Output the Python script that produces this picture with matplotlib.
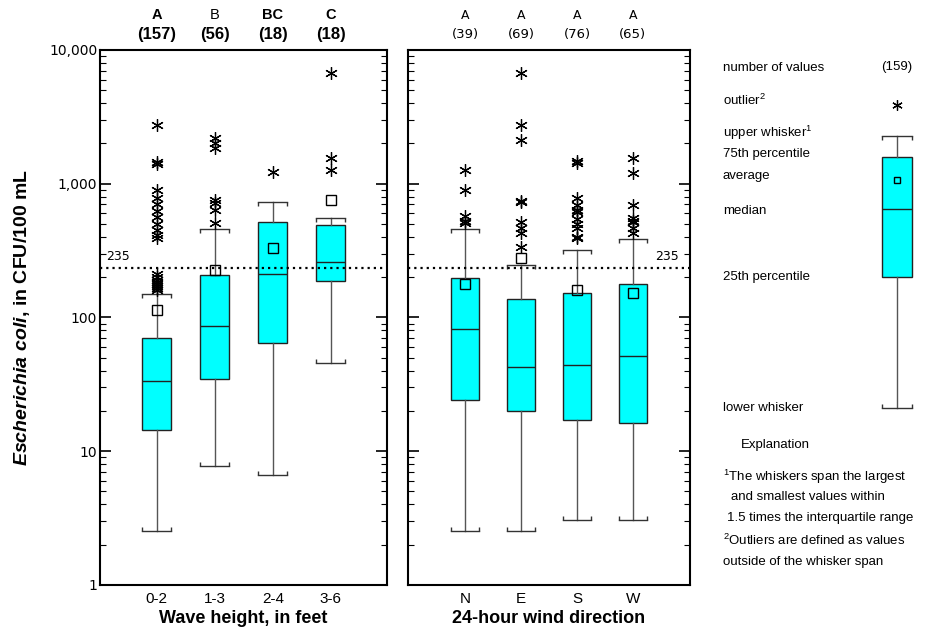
import matplotlib.pyplot as plt
import numpy as np
from matplotlib.ticker import LogLocator, FuncFormatter, NullFormatter

plt.rcParams['font.family'] = 'Liberation Sans'
plt.rcParams['mathtext.fontset'] = 'custom'
plt.rcParams['mathtext.rm'] = 'Liberation Sans'
plt.rcParams['mathtext.bfit'] = 'Liberation Sans:italic:bold'

# Wave height groups
wave_labels = ['0-2', '1-3', '2-4', '3-6']
wave_groups = ['A', 'B', 'BC', 'C']
wave_n = [157, 56, 18, 18]
wave_lo = [2.55, 7.8, 6.6, 45.7]
wave_q1 = [14.4, 34.7, 64.5, 187]
wave_med = [33.5, 86, 211, 260]
wave_q3 = [70, 208, 518, 492]
wave_hi = [150, 459, 731, 555]
wave_mean = [114, 226, 331, 755]
wave_out = [
    [2750, 1460, 1400, 900, 780, 700, 620, 560, 500, 450, 410, 390,
     210, 200, 192, 185, 178, 172, 166, 160],
    [2200, 2020, 1850, 754, 712, 634, 506],
    [1224],
    [6730, 1553, 1267],
]

# Wind direction groups
wind_labels = ['N', 'E', 'S', 'W']
wind_groups = ['A', 'A', 'A', 'A']
wind_n = [39, 69, 76, 65]
wind_lo = [2.55, 2.55, 3.05, 3.05]
wind_q1 = [24.2, 20, 17.1, 16.3]
wind_med = [82, 42.7, 44.2, 51.5]
wind_q3 = [197, 137, 152, 178]
wind_hi = [459, 247, 320, 386]
wind_mean = [178, 279, 161, 152]
wind_out = [
    [1267, 890, 574, 530, 506],
    [6730, 2750, 2124, 740, 725, 518, 465, 427, 338],
    [1470, 1420, 782, 693, 640, 615, 546, 500, 465, 400, 393],
    [1553, 1203, 693, 555, 530, 518, 465, 427],
]

# Explanation box
expl_n = 159
expl_lo, expl_q1, expl_med, expl_q3, expl_hi = 21, 201, 648, 1585, 2275
expl_mean = 1067
expl_out = [3880]

criterion = 235
CYAN = '#00FFFF'


def stats(lo, q1, med, q3, hi, mean, out):
    return [dict(whislo=a, q1=b, med=c, q3=d, whishi=e, mean=f, fliers=g)
            for a, b, c, d, e, f, g in zip(lo, q1, med, q3, hi, mean, out)]


def draw_boxes(ax, st, pos, width=0.5, ms_mean=6.5, ms_out=9):
    ax.bxp(st, positions=pos, widths=width, capwidths=width, patch_artist=True,
           showmeans=True,
           boxprops=dict(facecolor=CYAN, edgecolor='#222222', lw=1.0),
           medianprops=dict(color='#222222', lw=1.0),
           whiskerprops=dict(color='#555555', lw=1.0),
           capprops=dict(color='#333333', lw=1.0),
           meanprops=dict(marker='s', mfc='none', mec='black', ms=ms_mean, mew=1.0),
           flierprops=dict(marker=(6, 2, 0), mec='black', ms=ms_out, mew=0.9))
    his = [s['whishi'] for s in st]
    los = [s['whislo'] for s in st]
    for dx in (-width / 2, width / 2):
        ax.plot(np.asarray(pos) + dx, his, ls='none', marker=3, ms=3, color='#333333', mew=1.0)
        ax.plot(np.asarray(pos) + dx, los, ls='none', marker=2, ms=3, color='#333333', mew=1.0)


def style_axis(ax):
    ax.set_yscale('log')
    ax.set_ylim(1, 10000)
    ax.yaxis.set_major_locator(LogLocator(base=10, numticks=10))
    ax.yaxis.set_minor_locator(LogLocator(base=10, subs=np.arange(2, 10), numticks=10))
    ax.yaxis.set_minor_formatter(NullFormatter())
    ax.tick_params(axis='y', which='both', direction='in', left=True, right=True)
    ax.tick_params(axis='y', which='major', length=8, width=1.2)
    ax.tick_params(axis='y', which='minor', length=4, width=0.8)
    ax.tick_params(axis='x', length=0, pad=5, labelsize=11)
    for sp in ax.spines.values():
        sp.set_linewidth(1.5)
    ax.axhline(criterion, color='black', lw=1.6, ls=(0, (1, 1.8)), zorder=5)


fig = plt.figure(figsize=(9.27, 6.32), dpi=100)
ax1 = fig.add_axes([0.1079, 0.0744, 0.3097, 0.8466])
ax2 = fig.add_axes([0.4401, 0.0744, 0.3042, 0.8466])
ax3 = fig.add_axes([0.7551, 0.0744, 0.2449, 0.8466])

# Left panel
pos = np.arange(1, len(wave_labels) + 1)
draw_boxes(ax1, stats(wave_lo, wave_q1, wave_med, wave_q3, wave_hi, wave_mean, wave_out), pos)
style_axis(ax1)
ax1.set_xlim(0.02, 4.97)
ax1.set_xticks(pos)
ax1.set_xticklabels(wave_labels)
ax1.yaxis.set_major_formatter(FuncFormatter(lambda v, p: f'{int(round(v)):,}'))
ax1.tick_params(axis='y', labelsize=10, pad=2)
for lab in ax1.get_yticklabels():
    lab.set_family('DejaVu Sans')
ax1.set_xlabel('Wave height, in feet', fontsize=13, fontweight='bold', labelpad=3)
ax1.set_ylabel(r'$\mathbfit{Escherichia\ coli}$, in CFU/100 mL', fontsize=14,
               fontweight='bold', labelpad=12)
ax1.text(0.13, criterion * 1.08, str(criterion), fontsize=9, family='DejaVu Sans',
         ha='left', va='bottom')
weights = ['bold', 'normal', 'bold', 'bold']
for p, g, n, w in zip(pos, wave_groups, wave_n, weights):
    ax1.annotate(g, xy=(p, 1), xycoords=('data', 'axes fraction'), xytext=(0, 25),
                 textcoords='offset points', ha='center', va='center', fontsize=10.5,
                 fontweight=w)
    ax1.annotate(f'({n})', xy=(p, 1), xycoords=('data', 'axes fraction'), xytext=(0, 11),
                 textcoords='offset points', ha='center', va='center', fontsize=12,
                 fontweight='bold')

# Right panel
pos = np.arange(1, len(wind_labels) + 1)
draw_boxes(ax2, stats(wind_lo, wind_q1, wind_med, wind_q3, wind_hi, wind_mean, wind_out), pos)
style_axis(ax2)
ax2.set_xlim(-0.02, 5.02)
ax2.set_xticks(pos)
ax2.set_xticklabels(wind_labels)
ax2.tick_params(axis='y', which='both', labelleft=False)
ax2.set_xlabel('24-hour wind direction', fontsize=13, fontweight='bold', labelpad=3)
ax2.text(4.82, criterion * 1.08, str(criterion), fontsize=9, family='DejaVu Sans',
         ha='right', va='bottom')
for p, g, n in zip(pos, wind_groups, wind_n):
    ax2.annotate(g, xy=(p, 1), xycoords=('data', 'axes fraction'), xytext=(0, 25),
                 textcoords='offset points', ha='center', va='center', fontsize=9,
                 family='DejaVu Sans')
    ax2.annotate(f'({n})', xy=(p, 1), xycoords=('data', 'axes fraction'), xytext=(0, 11),
                 textcoords='offset points', ha='center', va='center', fontsize=9.5,
                 family='DejaVu Sans')

# Explanation panel
ax3.set_yscale('log')
ax3.set_ylim(1, 10000)
ax3.set_xlim(0, 1)
ax3.axis('off')
expl = stats([expl_lo], [expl_q1], [expl_med], [expl_q3], [expl_hi], [expl_mean], [expl_out])
draw_boxes(ax3, expl, [0.868], width=0.132, ms_mean=5, ms_out=7.5)

tx = 0.10
fs = 9.5
ax3.text(tx, 7300, 'number of values', fontsize=fs, va='center')
ax3.text(0.868, 7500, f'({expl_n})', fontsize=fs, va='center', ha='center')
ax3.text(tx, expl_out[0] * 1.09, 'outlier$^2$', fontsize=fs, va='center')
ax3.text(tx, expl_hi * 1.05, 'upper whisker$^1$', fontsize=fs, va='center')
ax3.text(tx, expl_q3 * 1.05, '75th percentile', fontsize=fs, va='center')
ax3.text(tx, expl_mean * 1.07, 'average', fontsize=fs, va='center')
ax3.text(tx, expl_med * 0.96, 'median', fontsize=fs, va='center')
ax3.text(tx, expl_q1, '25th percentile', fontsize=fs, va='center')
ax3.text(tx, expl_lo, 'lower whisker', fontsize=fs, va='center')

notes = [
    (741, 445, 'Explanation'),
    (723, 477, '$^1$The whiskers span the largest'),
    (731, 497, 'and smallest values within'),
    (727, 518, '1.5 times the interquartile range'),
    (723, 540, '$^2$Outliers are defined as values'),
    (723, 562, 'outside of the whisker span'),
]
for x, y, s in notes:
    fig.text(x / 927, 1 - y / 632, s, fontsize=fs, va='center', ha='left')

fig.savefig('out.png', dpi=100)
